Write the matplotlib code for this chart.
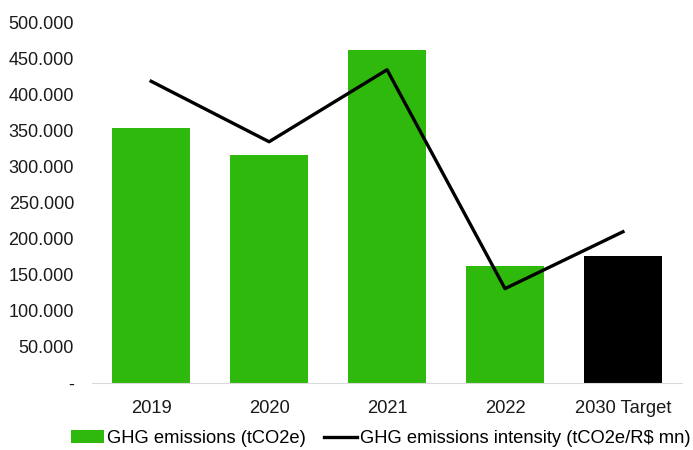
import matplotlib.pyplot as plt
from matplotlib.ticker import FuncFormatter
from matplotlib.patches import Patch
from matplotlib.lines import Line2D

plt.rcParams['font.family'] = ['Liberation Sans', 'DejaVu Sans']

categories = ['2019', '2020', '2021', '2022', '2030 Target']
emissions = [354000, 317000, 462000, 163000, 176000]
intensity = [419000, 335000, 435000, 131000, 210000]

green = '#2FB90D'
bar_colors = [green, green, green, green, 'black']


def fmt(v, pos):
    if v == 0:
        return '-'
    return f'{v:,.0f}'.replace(',', '.')


fig = plt.figure(figsize=(6.93, 4.5), dpi=100)
ax = fig.add_axes([0.133, 0.149, 0.851, 0.8])

x = range(len(categories))
ax.bar(x, emissions, width=0.66, color=bar_colors, zorder=2)
ax.plot(x, intensity, color='black', linewidth=2.4, zorder=3)

ax.set_xlim(-0.5, 4.5)
ax.set_ylim(0, 500000)
ax.set_yticks(range(0, 500001, 50000))
ax.yaxis.set_major_formatter(FuncFormatter(fmt))
ax.set_xticks(list(x))
ax.set_xticklabels(categories)
ax.tick_params(axis='x', length=0, labelsize=13.2, colors='#1a1a1a', pad=12)
ax.tick_params(axis='y', length=0, labelsize=13, colors='#1a1a1a', pad=13)

for s in ['top', 'right', 'left']:
    ax.spines[s].set_visible(False)
ax.spines['bottom'].set_color('#D9D9D9')

handles = [Patch(facecolor=green, label='GHG emissions (tCO2e)'),
           Line2D([0], [0], color='black', linewidth=2.4,
                  label='GHG emissions intensity (tCO2e/R$ mn)')]
fig.legend(handles=handles, loc='center', bbox_to_anchor=(0.55, 0.025),
           ncol=2, frameon=False, fontsize=13.2, handlelength=1.8,
           handletextpad=0.15, columnspacing=1.0, borderpad=0.1)

fig.savefig('out.png', dpi=100)
